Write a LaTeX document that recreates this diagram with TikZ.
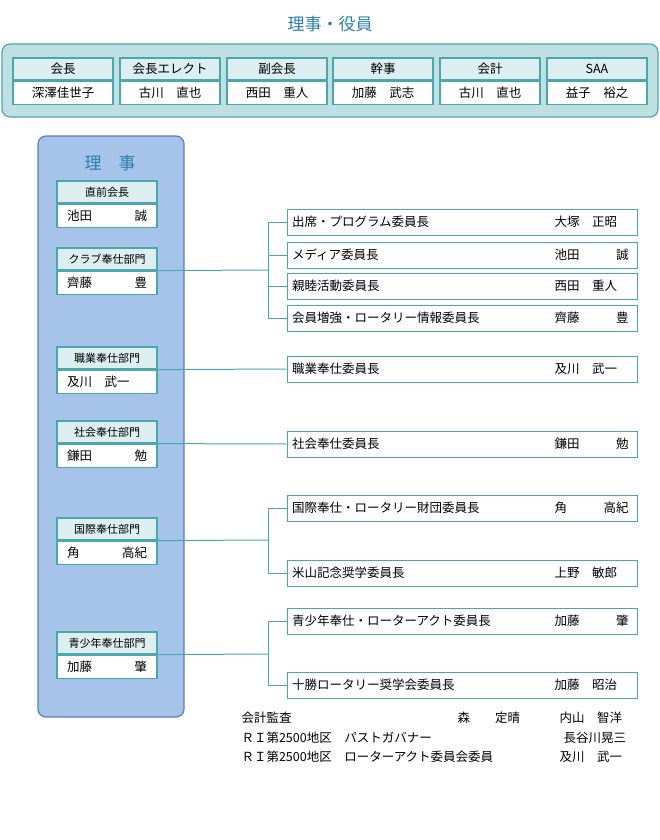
\documentclass[tikz,border=0pt]{standalone}
\usepackage{fontspec}
\setmainfont{Noto Sans CJK JP}
\usetikzlibrary{positioning}
\definecolor{tealline}{HTML}{4AA8AD}
\definecolor{tealfill}{HTML}{BFE0E3}
\definecolor{headfill}{HTML}{DCEEF0}
\definecolor{boardfill}{HTML}{A6C3EA}
\definecolor{boardline}{HTML}{5A7FB5}
\definecolor{titleblue}{HTML}{2A80AA}
\begin{document}
\begin{tikzpicture}[x=1pt,y=-1pt,font=\fontsize{12.5}{14}\selectfont]
	\tikzstyle{headbox} = [rectangle, draw=tealline, fill=headfill, line width=1.2pt,
	minimum width=100pt, minimum height=22pt, inner sep=0pt]
	\tikzstyle{namebox} = [rectangle, draw=tealline, fill=white, line width=1.2pt,
	minimum width=100pt, minimum height=23pt, inner sep=0pt]
	\tikzstyle{cmte} = [rectangle, draw=tealline, fill=white, line width=1pt,
	minimum width=350pt, minimum height=26pt, inner sep=0pt]
	\tikzstyle{line} = [draw=tealline, line width=1pt]
	\useasboundingbox (0,0) rectangle (660,840);
	% Officers
	\node [text=titleblue, font=\fontsize{17}{19}\selectfont] (title) at (330,24) {理事・役員};
	\draw [tealline, fill=tealfill, line width=1.2pt, rounded corners=8pt] (2,44) rectangle (658,117);
	\foreach \x/\role/\who [count=\i] in {63/会長/深澤佳世子, 170/会長エレクト/古川　直也,
		277/副会長/西田　重人, 383/幹事/加藤　武志, 490/会計/古川　直也, 597/SAA/益子　裕之} {
		\node [headbox] (o\i) at (\x,69) {\role};
		\node [namebox, below=0pt of o\i] (on\i) {\who};
	}
	% Board
	\draw [boardline, fill=boardfill, line width=1.2pt, rounded corners=8pt] (38,136) rectangle (184,717);
	\node [text=titleblue, font=\fontsize{17}{19}\selectfont] (board) at (110,163) {理　事};
	\foreach \y/\role/\who/\id in {192/直前会長/池田\hfill 誠/past, 259/クラブ奉仕部門/齊藤\hfill 豊/club,
		358/職業奉仕部門/及川　武一\hfill/voc, 432/社会奉仕部門/鎌田\hfill 勉/com,
		529/国際奉仕部門/角\hfill 高紀/intl, 643/青少年奉仕部門/加藤\hfill 肇/youth} {
		\node [headbox, font=\fontsize{11}{12}\selectfont] (\id) at (107,\y) {\role};
		\node [namebox, below=0pt of \id, text width=80pt, align=left] (\id n) {\who};
	}
	% Committees
	\foreach \y/\role/\who/\id in {222/出席・プログラム委員長/大塚　正昭/c1, 255/メディア委員長/池田\hfill 誠/c2,
		286/親睦活動委員長/西田　重人/c3, 318/会員増強・ロータリー情報委員長/齊藤\hfill 豊/c4,
		369/職業奉仕委員長/及川　武一/c5, 444/社会奉仕委員長/鎌田\hfill 勉/c6,
		508/国際奉仕・ロータリー財団委員長/角\hfill 高紀/c7, 573/米山記念奨学委員長/上野　敏郎/c8,
		621/青少年奉仕・ローターアクト委員長/加藤\hfill 肇/c9, 685/十勝ロータリー奨学会委員長/加藤　昭治/c10} {
		\node [cmte] (\id) at (462,\y) {};
		\node [anchor=west] at ([xshift=2pt]\id.west) {\role};
		\node [anchor=west, text width=74pt, align=left] at (551,\y) {\who};
	}
	% Draw edges
	\path [line] (clubn.north east) -- (268,270);
	\path [line] (268,222) -- (268,318);
	\foreach \c in {c1,c2,c3,c4} \path [line] (268,0 |- \c.west) -- (\c.west);
	\path [line] (vocn.north east) -- (c5.west);
	\path [line] (comn.north east) -- (c6.west);
	\path [line] (intln.north east) -- (268,540);
	\path [line] (268,508) -- (268,573);
	\foreach \c in {c7,c8} \path [line] (268,0 |- \c.west) -- (\c.west);
	\path [line] (youthn.north east) -- (268,654);
	\path [line] (268,621) -- (268,685);
	\foreach \c in {c9,c10} \path [line] (268,0 |- \c.west) -- (\c.west);
	% Auditors
	\node [anchor=west] (aud) at (238,718) {会計監査};
	\node [anchor=west] at (454,718) {森　　定晴};
	\node [anchor=west] at (556,718) {内山　智洋};
	\node [anchor=west] (pg) at (238,738) {ＲＩ第2500地区　パストガバナー};
	\node [anchor=west] at (560,738) {長谷川晃三};
	\node [anchor=west] (rac) at (238,757) {ＲＩ第2500地区　ローターアクト委員会委員};
	\node [anchor=west] at (556,757) {及川　武一};
\end{tikzpicture}
\end{document}
